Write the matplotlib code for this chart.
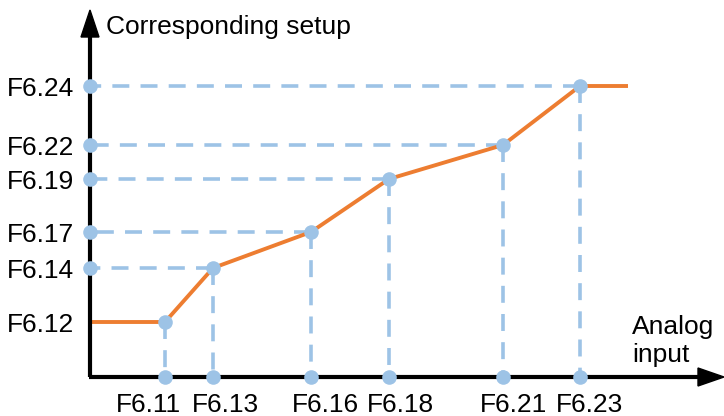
import matplotlib
matplotlib.use("Agg")
import matplotlib.pyplot as plt
from matplotlib.patches import Polygon

plt.rcParams["font.family"] = ["Liberation Sans", "DejaVu Sans"]

# Breakpoints of the analog-input curve (horizontal / vertical positions)
x_labels = ["F6.11", "F6.13", "F6.16", "F6.18", "F6.21", "F6.23"]
y_labels = ["F6.12", "F6.14", "F6.17", "F6.19", "F6.22", "F6.24"]
x_pos = [75, 123, 221, 299, 413, 490]
y_pos = [55, 109, 145, 198, 232, 291]
x_start = 0      # curve begins flat at the vertical axis
x_end = 538      # and continues flat after the last breakpoint

# Horizontal placement of the parameter names under the axis
x_label_shift = [-17, 12, 14, 11, 10, 10]

ORANGE = "#ED7D31"
BLUE = "#9DC3E6"

fig = plt.figure(figsize=(7.24, 4.16), dpi=100)
ax = fig.add_axes([0, 0, 1, 1])
ax.set_xlim(-90, 634)
ax.set_ylim(-39, 377)
ax.axis("off")

# Guide lines from each breakpoint to the axes
dash = (0, (4.7, 3.1))
for i, (xv, yv) in enumerate(zip(x_pos, y_pos)):
    ax.plot([xv, xv], [yv, 0], color=BLUE, lw=2.6, linestyle=dash, zorder=2,
            dash_capstyle="butt")
    if i > 0:
        ax.plot([xv, 0], [yv, yv], color=BLUE, lw=2.6, linestyle=dash, zorder=2,
                dash_capstyle="butt")

# Piecewise-linear characteristic
cx = [x_start] + x_pos + [x_end]
cy = [y_pos[0]] + y_pos + [y_pos[-1]]
ax.plot(cx, cy, color=ORANGE, lw=2.8, zorder=3, solid_capstyle="butt")

# Axes with arrowheads
ax.plot([0, 0], [0, 345], color="black", lw=3.0, zorder=4, solid_capstyle="butt")
ax.plot([-1.1, 610], [0, 0], color="black", lw=3.0, zorder=4, solid_capstyle="butt")
ax.add_patch(Polygon([[0, 367], [-9, 340], [9, 340]], closed=True,
                     color="black", zorder=4))
ax.add_patch(Polygon([[634, 0], [608, 9], [608, -9]], closed=True,
                     color="black", zorder=4))

# Markers at breakpoints and on the axes
ms = 10.5
ax.plot(x_pos, y_pos, "o", color=BLUE, ms=ms, mew=0, zorder=5)
ax.plot(x_pos, [0] * len(x_pos), "o", color=BLUE, ms=ms, mew=0, zorder=5)
ax.plot([0] * (len(y_pos) - 1), y_pos[1:], "o", color=BLUE, ms=ms, mew=0, zorder=5)

fs = 19
for xv, dx, lab in zip(x_pos, x_label_shift, x_labels):
    ax.text(xv + dx, -28, lab, ha="center", va="center", fontsize=fs)
for yv, lab in zip(y_pos, y_labels):
    ax.text(-16, yv - 3, lab, ha="right", va="center", fontsize=fs)

ax.text(16, 350, "Corresponding setup", ha="left", va="center", fontsize=fs)
ax.text(542, 50, "Analog", ha="left", va="center", fontsize=fs)
ax.text(542, 22, "input", ha="left", va="center", fontsize=fs)

fig.savefig("out.png", dpi=100)
